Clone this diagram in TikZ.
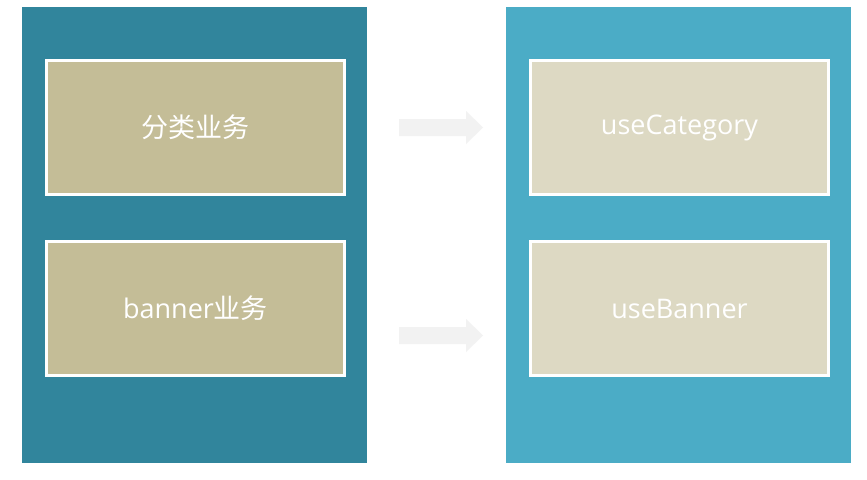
\documentclass[tikz,border=0pt]{standalone}
\usepackage{fontspec}
\setmainfont{Open Sans}
\newfontfamily\cjk{Noto Sans CJK SC}
\definecolor{leftbg}{HTML}{31859C}
\definecolor{rightbg}{HTML}{4BACC6}
\definecolor{leftbox}{HTML}{C4BD97}
\definecolor{rightbox}{HTML}{DDD9C3}
\definecolor{arrowgray}{HTML}{F2F2F2}
\tikzset{
  panel/.style={anchor=north west, inner sep=0pt, minimum width=345pt, minimum height=456pt},
  bizbox/.style={draw=white, line width=2.8pt, minimum width=298pt, minimum height=134pt, inner sep=0pt, text=white, font=\fontsize{27}{32}\selectfont},
  fatarrow/.style={fill=arrowgray}
}
\newcommand{\lowered}[1]{\raisebox{-2pt}{#1}}
\begin{document}
\begin{tikzpicture}[x=1pt,y=-1pt]
\useasboundingbox (0,0) rectangle (867,479);
\fill[white] (0,0) rectangle (867,479);
\node[panel, fill=leftbg] (lp) at (22,7) {};
\node[panel, fill=rightbg] (rp) at (506,7) {};
\node[bizbox, fill=leftbox] (l1) at (195.5,127.5) {\lowered{\cjk 分类业务}};
\node[bizbox, fill=leftbox] (l2) at (195.5,308.5) {\lowered{banner{\cjk 业务}}};
\node[bizbox, fill=rightbox] (r1) at (679.5,127.5) {\lowered{useCategory}};
\node[bizbox, fill=rightbox] (r2) at (679.5,308.5) {\lowered{useBanner}};
\coordinate (a1) at (399,127.5);
\coordinate (a2) at (399,335.5);
\fill[fatarrow] (a1) ++(0,-8.5) -- ++(67,0) -- ++(0,-8) -- ++(17,16.5) -- ++(-17,16.5) -- ++(0,-8) -- ++(-67,0) -- cycle;
\fill[fatarrow] (a2) ++(0,-8.5) -- ++(67,0) -- ++(0,-8) -- ++(17,16.5) -- ++(-17,16.5) -- ++(0,-8) -- ++(-67,0) -- cycle;
\end{tikzpicture}
\end{document}
